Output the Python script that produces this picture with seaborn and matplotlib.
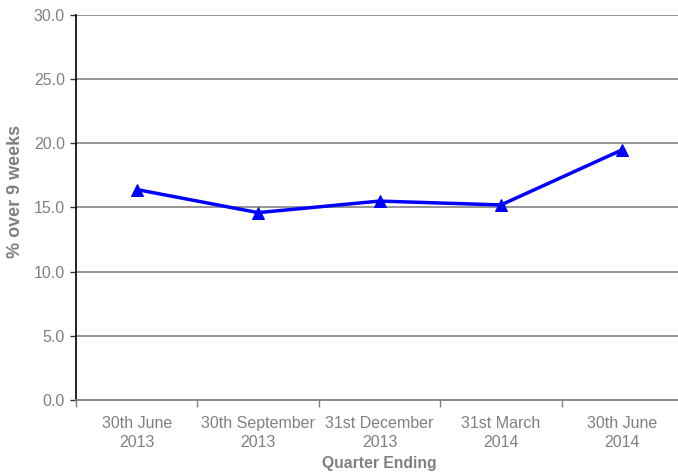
import matplotlib
matplotlib.use("Agg")
import matplotlib.pyplot as plt
from matplotlib import font_manager
import seaborn as sns
import pandas as pd
import numpy as np

quarters = ["30th June\n2013", "30th September\n2013", "31st December\n2013",
            "31st March\n2014", "30th June\n2014"]
pct_over_9_weeks = [16.4, 14.6, 15.5, 15.2, 19.5]
y_ticks = [0.0, 5.0, 10.0, 15.0, 20.0, 25.0, 30.0]

sns.set_theme(style="white")
plt.rcParams["font.family"] = ["Liberation Sans", "DejaVu Sans"]

installed = {f.name for f in font_manager.fontManager.ttflist}
narrow = "Liberation Sans Narrow" if "Liberation Sans Narrow" in installed else "Liberation Sans"
xlabel_size = 13.5 if narrow == "Liberation Sans Narrow" else 11.3

df = pd.DataFrame({"pos": np.arange(len(quarters)), "value": pct_over_9_weeks})

fig = plt.figure(figsize=(6.78, 4.72), dpi=100)
ax = fig.add_axes([76 / 678, 1 - 400 / 472, (683 - 76) / 678, (400 - 15) / 472])

grey = "#808080"
for yv in y_ticks[1:]:
    ax.axhline(yv, color="#8c8c8c", lw=1.3, zorder=1)

sns.lineplot(data=df, x="pos", y="value", ax=ax, color="#0000FF", lw=2.5,
             marker="^", markersize=9, markeredgecolor="#0000FF", zorder=3)

ax.set_xlim(-0.5, len(quarters) - 0.5)
ax.set_ylim(0, 30)
ax.set_yticks(y_ticks)
ax.set_yticklabels([f"{v:.1f}" for v in y_ticks], color=grey, fontsize=11.5)
ax.set_xticks(df["pos"])
ax.set_xticklabels(quarters, color=grey, fontsize=11.5, linespacing=1.35)
ax.set_xticks(np.arange(-0.5, len(quarters)), minor=True)
ax.tick_params(axis="x", which="major", length=0, pad=11.5)
ax.tick_params(axis="x", which="minor", length=5, width=1, color=grey, direction="out", bottom=True)
ax.tick_params(axis="y", length=4, width=1, color="#333333", direction="out", left=True, pad=4)

for s in ["top", "right"]:
    ax.spines[s].set_visible(False)
ax.spines["left"].set_color("#000000")
ax.spines["left"].set_linewidth(1.2)
ax.spines["bottom"].set_color(grey)
ax.spines["bottom"].set_linewidth(1.3)

ax.set_xlabel("Quarter Ending", color=grey, fontsize=xlabel_size, fontweight="bold",
              family=[narrow, "DejaVu Sans"])
ax.xaxis.set_label_coords((379 - 76) / (683 - 76), -(456 - 400) / 385, transform=ax.transAxes)
ax.set_ylabel("% over 9 weeks", color=grey, fontsize=13, fontweight="bold")
ax.yaxis.set_label_coords(-(76 - 24) / (683 - 76), (400 - 191) / 385, transform=ax.transAxes)

fig.savefig("out.png", dpi=100)
